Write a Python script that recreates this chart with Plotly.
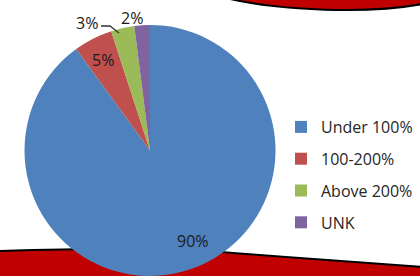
import plotly.graph_objects as go

# ---- data ----
categories = ["Under 100%", "100-200%", "Above 200%", "UNK"]
values = [90, 5, 3, 2]
colors = ["#4F81BD", "#C0504D", "#9BBB59", "#8064A2"]
percent_labels = [f"{v}%" for v in values]

W, H = 420, 276

# label placement (pixels from top-left), separate from the data
label_px = [(193, 241), (103, 60), (87, 23), (132, 18)]

def pp(x, y):
    return x / W, 1 - y / H

def path_pt(x, y):
    a, b = pp(x, y)
    return f"{a:.4f} {b:.4f}"

fig = go.Figure()

cx, cy, r = 150, 152, 127
fig.add_trace(go.Pie(
    labels=categories,
    values=values,
    sort=False,
    direction="clockwise",
    rotation=0,
    marker=dict(colors=colors, line=dict(width=0)),
    textinfo="none",
    showlegend=False,
    domain=dict(x=[(cx - r) / W, (cx + r) / W], y=[max(0, 1 - (cy + r) / H), 1 - (cy - r) / H]),
    hoverinfo="label+percent",
))

# legend entries
for name, col in zip(categories, colors):
    fig.add_trace(go.Scatter(
        x=[None], y=[None], mode="markers", name=name, legendgroup=name,
        marker=dict(symbol="square", size=10, color=col),
    ))

# percent labels
for txt, (lx, ly) in zip(percent_labels, label_px):
    ax_, ay_ = pp(lx, ly)
    fig.add_annotation(x=ax_, y=ay_, xref="paper", yref="paper", text=txt, showarrow=False,
                       xanchor="center", yanchor="middle",
                       font=dict(family="Open Sans", size=16, color="#1a1a1a"))

# leader line for the 3% label
fig.add_shape(type="path", xref="paper", yref="paper",
              path="M " + path_pt(101, 26) + " L " + path_pt(110, 26) + " L " + path_pt(119, 33),
              line=dict(color="#333333", width=1.3))

# decorative swooshes
top_path = ("M " + path_pt(226, -2) + " C " + path_pt(280, 11) + " " + path_pt(370, 14) + " " + path_pt(422, 4)
            + " L " + path_pt(422, -5) + " L " + path_pt(226, -5) + " Z")
bot_path = ("M " + path_pt(-2, 251) + " C " + path_pt(100, 248) + " " + path_pt(180, 248) + " " + path_pt(233, 253)
            + " C " + path_pt(300, 258) + " " + path_pt(380, 264) + " " + path_pt(422, 267)
            + " L " + path_pt(422, 280) + " L " + path_pt(-2, 280) + " Z")
for p in (top_path, bot_path):
    fig.add_shape(type="path", path=p, xref="paper", yref="paper",
                  fillcolor="#C00000", line=dict(color="black", width=2), layer="below")

fig.update_layout(
    width=W, height=H,
    margin=dict(l=0, r=0, t=0, b=0, autoexpand=False),
    paper_bgcolor="white", plot_bgcolor="rgba(0,0,0,0)",
    xaxis=dict(visible=False, domain=[0.99, 1]),
    yaxis=dict(visible=False, domain=[0.99, 1]),
    showlegend=True,
    legend=dict(
        x=281 / W, y=1 - 110 / H, xanchor="left", yanchor="top",
        font=dict(family="Open Sans", size=16, color="#262626"),
        tracegroupgap=8, bgcolor="rgba(0,0,0,0)", itemsizing="constant",
    ),
)

fig.write_html("out.html", config={"displayModeBar": False},
               post_script="document.body.style.margin='0';document.body.style.overflow='hidden';")
